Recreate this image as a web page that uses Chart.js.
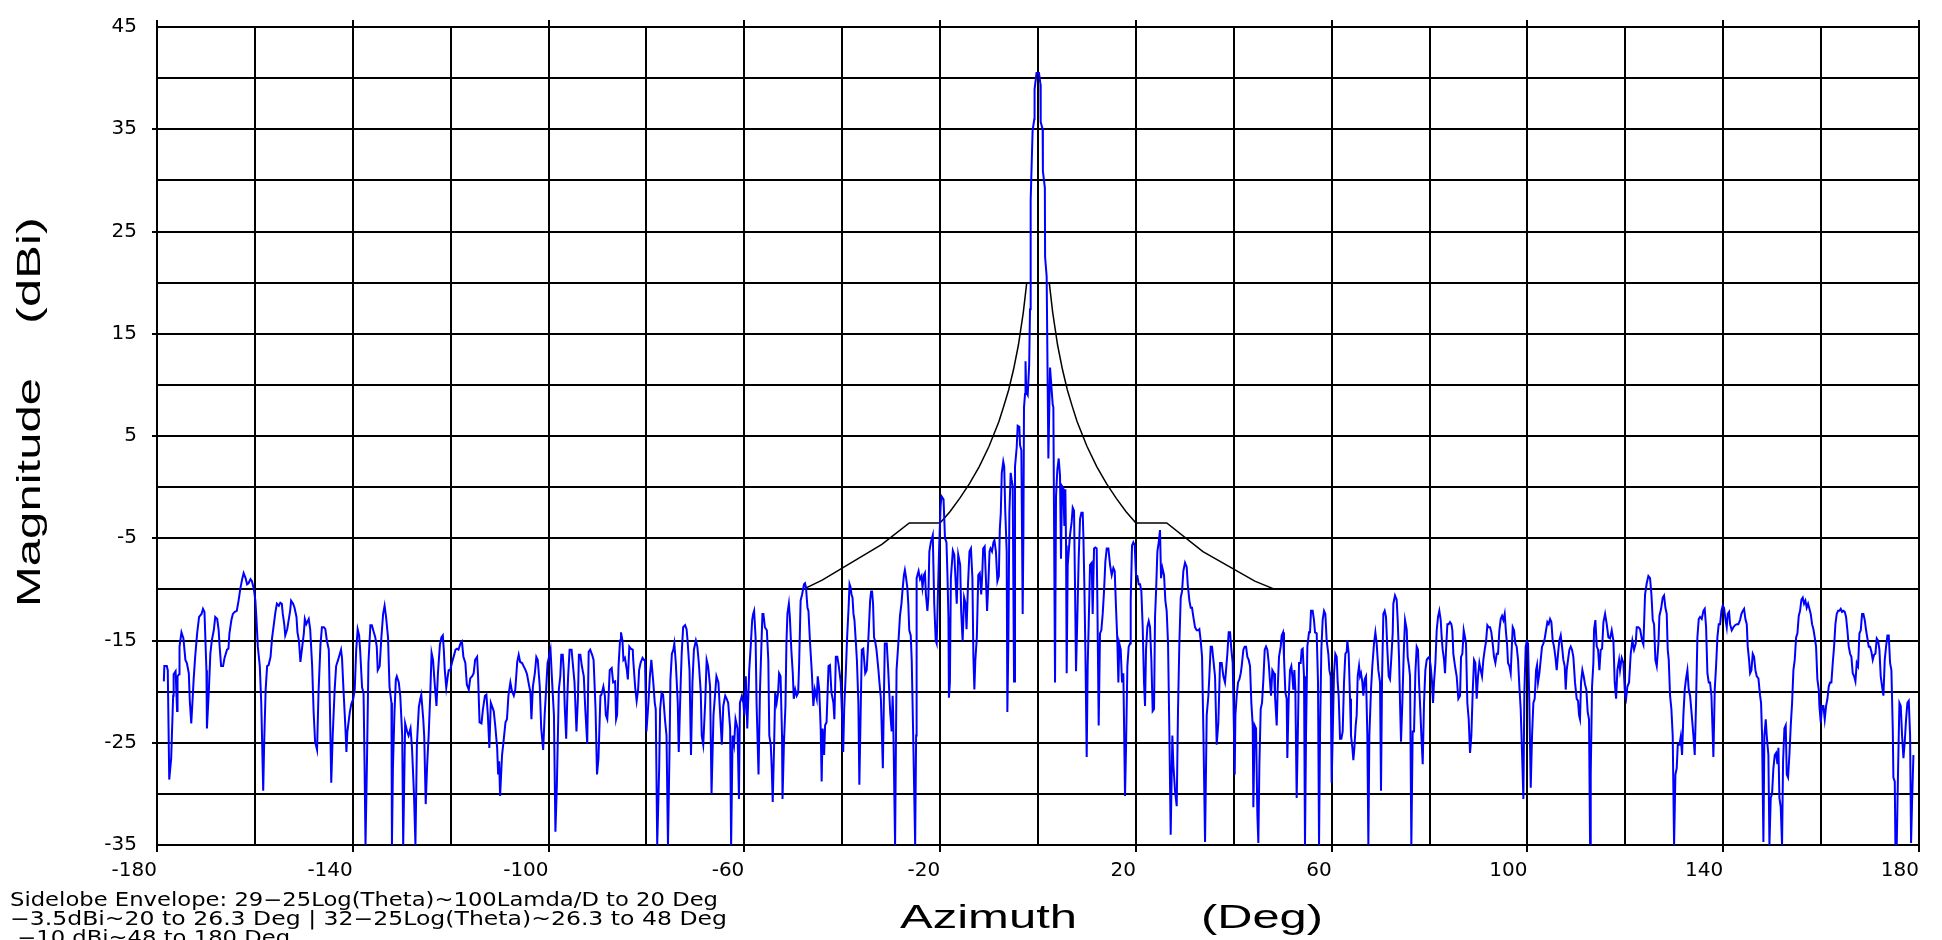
<!DOCTYPE html>
<html>
<head>
<meta charset="utf-8">
<title>Azimuth pattern</title>
<script src="https://cdn.jsdelivr.net/npm/chart.js@4.4.1/dist/chart.umd.min.js"></script>
<style>
  html, body { margin: 0; padding: 0; background: #fff; }
  #wrap { width: 1942px; height: 940px; }
</style>
</head>
<body>
<div id="wrap"><canvas id="myChart"></canvas></div>
<script>
// measured pattern in five sweeps (deg / dBi)
const azWest = [
  -178.6,-178.5,-178.0,-177.8,-177.5,-177.1,-176.7,-176.6,-176.2,-175.9,
  -175.8,-175.5,-175.4,-175.0,-174.6,-174.2,-173.9,-173.5,-173.3,-173.0,
  -172.8,-172.5,-172.2,-171.8,-171.4,-170.9,-170.6,-170.3,-169.9,-169.8,
  -169.4,-169.1,-168.8,-168.4,-168.1,-167.7,-167.4,-167.2,-166.9,-166.5,
  -166.2,-165.7,-165.4,-165.2,-164.8,-164.5,-164.1,-163.7,-163.3,-163.0,
  -162.6,-162.3,-161.9,-161.6,-161.3,-160.9,-160.6,-160.2,-159.9,-159.7,
  -159.4,-159.0,-158.7,-158.3,-158.1,-157.8,-157.5,-157.2,-156.8,-156.5,
  -156.2,-155.8,-155.5,-155.1,-154.8,-154.5,-154.3,-154.0,-153.8,-153.4,
  -153.1,-152.8,-152.6,-152.2,-151.9,-151.5,-151.3,-151.0,-150.7,-150.4,
  -150.0,-149.8,-149.5,-149.0,-148.7,-148.3,-148.0,-147.7,-147.3,-147.0,
  -146.6,-146.3,-145.9,-145.6,-145.3,-144.9,-144.7,-144.4,-144.1,-143.7,
  -143.4,-143.0,-142.7,-142.4,-142.2,-141.9,-141.5,-141.3,-141.1,-140.6,
  -140.3,-139.9,-139.6,-139.3,-139.0,-138.7,-138.5,-138.1,-137.8,-137.6,
  -137.4,-137.1,-136.8,-136.4,-136.1,-135.7,-135.4,-135.1,-134.9,-134.5,
  -134.2,-133.8,-133.5,-133.2,-132.8,-132.5,-132.1,-132.0,-131.8,-131.5,
  -131.2,-131.0,-130.6,-130.3,-129.9,-129.7,-129.5,-129.3,-128.9,-128.6,
  -128.2,-127.9,-127.5,-127.2,-126.9,-126.5,-126.2,-126.0,-125.6,-125.4,
  -125.1,-124.8,-124.5,-124.2,-123.9,-123.6,-123.3,-122.9,-122.6,-122.2,
  -121.9,-121.6,-121.4,-121.2,-120.9,-120.6,-120.4,-120.1,-119.7,-119.4,
  -119.0,-118.7,-118.4,-118.0,-117.7,-117.4,-117.0,-116.7,-116.3,-116.0,
  -115.6,-115.3,-115.0,-114.6,-114.4,-114.1,-113.7,-113.4,-113.0,-112.7,
  -112.4,-112.1,-111.8,-111.5,-111.2,-110.9,-110.5,-110.3,-110.1,-109.9,
  -109.5,-109.2,-108.8,-108.5,-108.2,-107.8,-107.5,-107.1,-106.8,-106.4,
  -106.1,-105.8,-105.4,-105.1,-104.7,-104.4,-104.1,-103.7,-103.5,-103.2,
  -102.8,-102.5,-102.2,-101.8,-101.5,-101.1,-100.8,-100.5,-100.2,-99.9,
  -99.6,-99.3,-98.9,-98.6,-98.3,-97.9,-97.6,-97.4,-97.1,-96.9,
  -96.7,-96.4,-96.2,-96.0,-95.7,-95.3,-95.0,-94.7,-94.3,-94.0,
  -93.8,-93.5,-93.2,-92.8,-92.5,-92.1,-91.8,-91.5,-91.1,-90.8,
  -90.4,-90.1,-89.8,-89.4
];
const dbWest = [
  -19.0,-17.5,-17.5,-17.9,-28.6,-26.5,-20.4,-18.3,-18.0,-21.9,
  -18.5,-18.3,-15.6,-14.2,-14.8,-16.9,-17.2,-18.2,-20.9,-23.1,
  -21.4,-18.7,-16.6,-14.3,-12.7,-12.4,-11.9,-12.2,-17.9,-23.6,
  -19.8,-16.3,-15.0,-14.0,-12.7,-12.9,-14.0,-15.6,-17.5,-17.5,
  -16.7,-15.9,-15.8,-14.3,-13.0,-12.4,-12.2,-12.1,-11.0,-10.0,
  -9.0,-8.4,-8.9,-9.5,-9.4,-9.0,-9.2,-10.0,-11.1,-12.7,
  -15.6,-17.5,-21.1,-29.7,-24.9,-19.8,-17.5,-17.4,-16.6,-14.8,
  -13.7,-12.2,-11.4,-11.6,-11.3,-11.4,-12.4,-13.4,-14.5,-13.9,
  -13.0,-12.1,-11.1,-11.4,-11.8,-12.7,-14.2,-15.0,-17.1,-15.9,
  -14.3,-12.9,-13.4,-12.9,-13.9,-17.5,-22.0,-24.9,-25.7,-20.1,
  -15.4,-13.7,-13.7,-13.9,-15.0,-15.9,-20.7,-28.9,-24.3,-19.8,
  -17.5,-16.9,-16.4,-15.9,-16.7,-19.8,-23.6,-25.9,-23.9,-22.0,
  -21.2,-20.7,-19.8,-15.9,-13.9,-14.5,-15.9,-19.6,-20.1,-26.8,
  -35,-26.8,-17.2,-13.5,-13.5,-14.2,-14.7,-15.6,-17.9,-17.5,
  -15.0,-12.4,-11.6,-12.7,-14.7,-19.5,-21.1,-35,-27.5,-22.3,
  -18.8,-18.5,-19.1,-20.4,-24.3,-35,-29.1,-23.1,-23.9,-24.3,
  -23.6,-25.5,-30.0,-35,-25.2,-21.5,-20.7,-20.3,-22.7,-24.4,
  -31.0,-27.1,-24.3,-20.7,-16.2,-16.9,-19.0,-21.4,-18.2,-15.4,
  -14.7,-14.5,-15.9,-17.9,-19.6,-18.5,-17.9,-17.9,-17.1,-16.6,
  -15.9,-15.8,-15.9,-15.3,-15.1,-16.6,-17.2,-19.3,-19.8,-18.7,
  -18.5,-18.2,-16.9,-16.6,-18.5,-23.0,-23.1,-21.7,-20.4,-20.3,
  -22.3,-25.5,-21.1,-21.5,-21.9,-23.3,-25.5,-28.1,-26.8,-30.2,
  -26.2,-24.9,-23.0,-22.7,-20.4,-19.1,-19.9,-20.4,-19.8,-17.1,
  -16.4,-17.1,-17.2,-17.5,-17.9,-18.3,-19.1,-20.1,-22.7,-19.5,
  -18.2,-16.6,-16.9,-19.5,-23.6,-25.7,-22.3,-19.8,-17.2,-16.6,
  -15.9,-18.8,-22.3,-33.7,-29.1,-19.8,-18.5,-16.4,-16.4,-17.9,
  -21.4,-24.6,-21.1,-18.5,-15.9,-15.9,-17.5,-19.1,-23.9,-20.7,
  -16.4,-16.4,-17.5,-18.5,-21.7,-25.1,-16.1,-15.9,-16.4,-16.9,
  -21.7,-28.1,-26.5,-20.4
];

const azMidWest = [
  -89.2,-88.8,-88.5,-88.3,-88.0,-87.8,-87.5,-87.1,-86.8,-86.4,
  -86.2,-86.0,-85.7,-85.4,-85.2,-84.9,-84.7,-84.4,-84.0,-83.8,
  -83.5,-83.2,-82.8,-82.7,-82.3,-82.0,-81.7,-81.5,-81.2,-80.8,
  -80.5,-80.3,-80.0,-79.6,-79.3,-79.0,-78.6,-78.3,-78.1,-77.8,
  -77.4,-77.2,-76.9,-76.6,-76.2,-75.9,-75.6,-75.3,-75.1,-74.8,
  -74.5,-74.3,-74.0,-73.6,-73.4,-73.0,-72.8,-72.5,-72.1,-71.8,
  -71.6,-71.2,-70.9,-70.6,-70.3,-69.9,-69.6,-69.3,-68.9,-68.7,
  -68.4,-68.0,-67.7,-67.4,-67.0,-66.7,-66.3,-66.0,-65.7,-65.3,
  -65.0,-64.6,-64.3,-63.9,-63.6,-63.3,-62.9,-62.7,-62.4,-62.1,
  -61.8,-61.4,-61.1,-60.9,-60.5,-60.2,-60.0,-59.7,-59.4,-59.0,
  -58.7,-58.4,-58.2,-58.0,-57.7,-57.5,-57.1,-56.8,-56.5,-56.3,
  -56.1,-55.8,-55.4,-55.1,-54.9,-54.6,-54.4,-54.2,-53.9,-53.7,
  -53.4,-53.1,-52.9,-52.6,-52.3,-52.2,-51.9,-51.6,-51.4,-51.2,
  -50.9,-50.7,-50.4,-50.1,-49.9,-49.6,-49.3,-49.0,-48.8,-48.5,
  -48.2,-47.8,-47.6,-47.4,-47.1,-46.9,-46.6,-46.2,-45.9,-45.6,
  -45.2,-45.0,-44.7,-44.4,-44.2,-44.0,-43.7,-43.5,-43.2,-42.8,
  -42.5,-42.2,-41.8,-41.6,-41.3,-41.0,-40.7,-40.3,-40.0,-39.8,
  -39.6,-39.3,-39.0,-38.7,-38.5,-38.3,-38.1,-37.9,-37.7,-37.5,
  -37.2,-37.0,-36.7,-36.5,-36.2,-36.0,-35.7,-35.3,-35.0,-34.7,
  -34.3,-34.1,-33.9,-33.7,-33.5,-33.3,-33.0,-32.6,-32.4,-32.1,
  -31.7,-31.5,-31.3,-30.9,-30.6,-30.2,-29.9,-29.7,-29.6,-29.2,
  -28.9,-28.5,-28.2,-27.9,-27.7,-27.4,-27.2,-27.0,-26.7,-26.5,
  -26.3,-26.0,-25.8,-25.5,-25.1,-24.9,-24.8,-24.4,-24.1,-23.8,
  -23.6,-23.3,-23.1,-22.9,-22.6,-22.4,-22.2,-21.9,-21.5,-21.2,
  -20.9,-20.7,-20.5,-20.2,-19.9,-19.7
];
const dbMidWest = [
  -20.3,-19.5,-20.4,-22.3,-22.7,-21.1,-17.9,-17.7,-19.1,-19.0,
  -22.7,-22.3,-17.5,-15.0,-14.2,-15.0,-16.9,-16.7,-17.9,-18.8,
  -15.6,-15.8,-15.9,-16.9,-19.6,-20.9,-19.8,-17.9,-17.2,-16.7,
  -16.9,-16.9,-23.9,-21.1,-18.5,-16.9,-19.1,-21.1,-21.7,-35,
  -27.5,-21.7,-20.1,-20.3,-22.8,-24.3,-35,-26.2,-18.8,-16.3,
  -15.9,-15.3,-17.2,-21.1,-25.9,-19.1,-16.3,-13.7,-13.5,-13.9,
  -15.0,-17.9,-26.2,-19.1,-15.9,-15.0,-15.6,-17.2,-20.1,-24.3,
  -25.2,-21.1,-16.9,-17.5,-19.5,-30.0,-22.3,-20.4,-18.5,-19.1,
  -21.7,-25.2,-21.4,-20.4,-20.7,-21.1,-23.6,-35,-24.3,-25.2,
  -22.7,-23.6,-30.5,-21.1,-20.4,-21.1,-22.3,-18.5,-23.6,-17.9,
  -15.6,-13.0,-12.4,-12.1,-14.7,-21.1,-28.1,-19.8,-15.3,-12.4,
  -12.4,-13.7,-14.0,-16.9,-24.3,-25.2,-27.5,-30.8,-24.9,-20.1,
  -21.1,-20.1,-18.2,-18.5,-24.3,-30.5,-24.9,-21.4,-15.3,-12.4,
  -11.4,-12.7,-15.9,-18.2,-20.7,-19.8,-20.4,-20.1,-17.2,-11.1,
  -10.5,-9.5,-9.4,-9.8,-11.8,-12.1,-15.0,-18.2,-21.4,-19.8,
  -20.7,-18.5,-19.8,-23.6,-28.8,-23.6,-26.2,-23.3,-23.0,-17.5,
  -17.4,-20.1,-21.1,-22.7,-16.6,-16.6,-17.5,-19.1,-22.7,-25.9,
  -21.7,-18.5,-14.7,-11.8,-9.5,-9.8,-10.5,-10.8,-12.4,-13.0,
  -15.3,-16.9,-21.1,-29.1,-21.1,-15.9,-15.8,-18.2,-17.9,-15.3,
  -11.1,-10.2,-10.2,-11.4,-14.7,-15.0,-15.9,-17.9,-19.1,-20.7,
  -27.5,-21.1,-15.3,-15.3,-17.9,-22.0,-23.9,-20.4,-22.0,-35,
  -17.9,-15.0,-12.6,-11.4,-10.2,-8.6,-8.1,-8.7,-9.8,-11.4,
  -14.0,-14.5,-16.9,-24.3,-35,-24.3,-8.9,-8.2,-9.0,-8.7,
  -9.8,-8.6,-8.4,-10.5,-12.1,-10.8,-6.3,-5.4,-4.7,-11.4,
  -15.0,-15.3,-11.4,-6.0,-1.8,-0.9
];

const azCenter = [
  -19.3,-19.0,-18.7,-18.5,-18.3,-18.2,-18.0,-17.8,-17.4,-17.1,
  -16.8,-16.6,-16.3,-15.9,-15.7,-15.4,-15.1,-14.8,-14.6,-14.3,
  -14.0,-13.7,-13.4,-13.2,-13.0,-12.8,-12.5,-12.2,-11.9,-11.6,
  -11.4,-11.2,-10.9,-10.6,-10.4,-10.1,-9.9,-9.7,-9.4,-9.1,
  -8.9,-8.6,-8.3,-8.0,-7.8,-7.6,-7.4,-7.1,-6.9,-6.7,
  -6.4,-6.26,-6.06,-5.85,-5.58,-5.38,-5.17,-4.9,-4.7,-4.35,
  -4.15,-3.81,-3.67,-3.4,-3.13,-2.99,-2.86,-2.65,-2.55,-2.4,
  -2.1,-1.8,-1.63,-1.5,-1.1,-0.75,-0.7,-0.3,0.2,0.5,
  0.55,0.95,1.0,1.4,1.45,1.77,2.12,2.46,3.0,3.14,
  3.48,3.68,3.95,4.23,4.5,4.7,4.91,5.18,5.39,5.59,
  5.73,5.86,6.07,6.54,6.88,7.09,7.36,7.56,7.77,8.04,
  8.31,8.59,8.86,9.13,9.27,9.47,9.68,9.95,10.15,10.36,
  10.63,10.97,11.17,11.45,11.72,11.99,12.13,12.4,12.67,12.94,
  13.22,13.49,13.76,14.04,14.38,14.72,15.06,15.4,15.67,15.94,
  16.21,16.42,16.62,16.9,17.17,17.44,17.78,17.98,18.26,18.53,
  18.8,18.94,19.21,19.48,19.76,20.03,20.3,20.57,20.85,21.12,
  21.39,21.66,21.87,22.07,22.34,22.62,22.89,23.16,23.43,23.71,
  23.91,24.12,24.39,24.66,24.93,25.14,25.41,25.75,26.02,26.29,
  26.57,26.84,27.11,27.45,27.66,28.0,28.34,28.61,28.88,29.16,
  29.43,29.7,30.04,30.38,30.59,30.93,31.2,31.47,31.74,32.08,
  32.42,32.77,32.97,33.24,33.52,33.79,34.13,34.47,34.81,35.01,
  35.28,35.56,35.83,36.17,36.51,36.85,37.19,37.53,37.87,38.21,
  38.42,38.69,38.96,39.24,39.51,39.78,39.92,40.19,40.33,40.6,
  40.87,41.14,41.42,41.62,41.96,42.23,42.51,42.78,43.05,43.32,
  43.59,43.87,44.0,44.27,44.55,44.82,45.02,45.23,45.5,45.77,
  46.05,46.32,46.59,46.86,47.14,47.41
];
const dbCenter = [
  -1.2,-5.0,-5.4,-8.6,-12.7,-20.6,-19.1,-8.9,-6.2,-6.6,
  -9.5,-11.4,-6.6,-7.6,-12.1,-15.1,-10.8,-11.4,-13.9,-9.5,
  -6.3,-6.0,-8.9,-16.6,-19.8,-16.9,-14.7,-8.6,-8.4,-10.5,
  -8.6,-6.0,-5.8,-9.5,-12.1,-8.9,-6.3,-6.0,-6.3,-5.4,
  -5.2,-6.3,-9.2,-8.7,-4.1,-2.5,1.4,2.5,2.0,-2.2,
  -6.3,-22.0,-15.3,-2.5,1.4,0.7,0.1,-19.0,2.0,3.9,
  6.0,5.9,4.1,3.6,-12.4,-5.0,7.8,9.1,12.3,9.3,
  9.0,12.0,17.4,28.0,34.9,36.0,38.9,40.5,40.5,39.4,
  35.7,35.0,30.9,29.3,22.5,20.6,2.8,11.7,8.1,7.8,
  -19.1,-0.9,1.7,2.8,1.1,-7.0,0.1,-0.1,-3.8,-0.2,
  -5.7,-18.2,-7.6,-4.7,-3.4,-2.0,-2.3,-9.5,-18.0,-12.7,
  -7.0,-3.1,-2.5,-2.5,-4.7,-9.5,-15.9,-26.4,-17.5,-13.4,
  -7.6,-7.4,-12.4,-6.0,-5.9,-6.0,-11.1,-23.3,-14.3,-14.0,
  -12.4,-10.2,-7.3,-6.0,-6.0,-7.6,-8.6,-7.9,-8.2,-11.8,
  -15.0,-19.1,-15.3,-15.9,-19.1,-18.2,-30.2,-25.6,-17.5,-15.6,
  -15.3,-11.1,-5.7,-5.4,-5.7,-8.6,-8.7,-9.5,-9.5,-10.2,
  -13.7,-19.1,-21.4,-15.9,-13.7,-13.1,-13.7,-16.9,-21.9,-21.7,
  -12.7,-10.2,-6.3,-5.4,-4.2,-8.9,-7.9,-8.6,-11.1,-12.1,
  -15.3,-23.9,-34.0,-24.3,-27.2,-29.7,-31.2,-21.7,-15.3,-10.8,
  -10.2,-8.2,-7.4,-7.8,-9.5,-11.1,-11.8,-11.8,-12.7,-13.7,
  -14.0,-14.0,-13.9,-15.0,-16.6,-23.9,-34.7,-22.3,-20.4,-18.5,
  -15.6,-15.6,-16.9,-18.5,-25.2,-23.0,-17.2,-17.2,-18.5,-19.1,
  -17.9,-16.3,-14.2,-14.2,-15.9,-17.2,-20.7,-28.1,-22.3,-20.4,
  -19.1,-18.8,-18.2,-17.5,-15.9,-15.6,-15.6,-16.6,-16.9,-17.5,
  -21.1,-23.3,-31.3,-23.3,-23.6,-32.0,-34.8,-27.2,-21.7,-21.1,
  -18.8,-15.9,-15.6,-15.9,-17.2,-19.1
];

const azMidEast = [
  47.61,47.88,48.22,48.42,48.77,48.97,49.24,49.58,49.79,50.06,
  50.26,50.54,50.81,50.94,51.22,51.49,51.76,51.97,52.17,52.38,
  52.58,52.85,53.06,53.33,53.67,53.87,54.08,54.35,54.55,54.76,
  55.03,55.37,55.58,55.78,56.12,56.39,56.6,56.94,57.21,57.42,
  57.62,57.89,58.16,58.44,58.71,58.98,59.32,59.53,59.8,60.0,
  60.21,60.48,60.75,61.03,61.23,61.43,61.71,61.98,62.25,62.52,
  62.8,63.07,63.2,63.48,63.75,63.95,64.23,64.43,64.64,64.91,
  65.11,65.32,65.59,65.79,66.0,66.27,66.47,66.75,67.02,67.29,
  67.5,67.7,68.04,68.31,68.65,68.93,69.2,69.54,69.88,70.08,
  70.29,70.56,70.83,71.1,71.38,71.65,71.92,72.2,72.47,72.6,
  72.94,73.28,73.49,73.76,73.97,74.17,74.44,74.72,74.99,75.33,
  75.53,75.8,76.01,76.28,76.55,76.83,77.1,77.37,77.64,77.85,
  78.05,78.33,78.6,78.87,79.14,79.42,79.69,79.96,80.23,80.51,
  80.71,80.91,81.19,81.46,81.73,82.0,82.28,82.48,82.68,82.96,
  83.16,83.37,83.64,83.91,84.18,84.46,84.66,84.86,85.2,85.54,
  85.88,86.23,86.43,86.7,86.98,87.25,87.45,87.72,88.0,88.27,
  88.54,88.81,89.09,89.36,89.63,89.9,90.18,90.45,90.72,90.99,
  91.27,91.54,91.81,92.08,92.36,92.63,92.9,93.17,93.45,93.72,
  93.99,94.26,94.54,94.81,95.08,95.35,95.63,95.83,96.03,96.31,
  96.58,96.78,96.99,97.26,97.53,97.8,98.08,98.35,98.62,98.89,
  99.17,99.37,99.64,99.85,100.12,100.39,100.67,100.94,101.21,101.48,
  101.76,101.96,102.16,102.44,102.71,102.98,103.25,103.53,103.8,104.07,
  104.34,104.62,104.89,105.16,105.43,105.71,105.98,106.25,106.52,106.8,
  107.07,107.34,107.61,107.82,108.02,108.29,108.57,108.84,109.11,109.38,
  109.72,110.06,110.34,110.54,110.74,110.95,111.22,111.49,111.77,112.04,
  112.31,112.58
];
const dbMidEast = [
  -20.4,-17.9,-18.2,-20.4,-23.3,-19.8,-16.6,-15.6,-14.5,-14.2,
  -16.6,-20.1,-20.7,-26.5,-20.7,-17.9,-17.5,-18.5,-19.8,-17.9,
  -19.8,-30.4,-24.9,-17.2,-17.2,-15.9,-15.8,-18.5,-35,-24.3,
  -15.6,-14.2,-14.2,-12.1,-12.1,-13.0,-14.2,-14.3,-19.1,-35,
  -24.3,-15.9,-13.0,-12.1,-12.4,-15.0,-16.3,-17.9,-18.5,-28.9,
  -24.3,-18.2,-16.3,-16.6,-19.1,-20.4,-24.6,-24.6,-23.9,-19.1,
  -16.3,-16.1,-15.0,-16.3,-20.7,-24.3,-25.5,-26.7,-25.5,-23.3,
  -22.3,-18.5,-17.5,-18.5,-18.2,-19.1,-20.4,-18.8,-18.5,-24.3,
  -35,-24.3,-19.8,-17.5,-15.3,-14.2,-15.3,-17.9,-19.1,-29.7,
  -18.8,-12.4,-12.1,-12.7,-15.9,-18.5,-18.8,-16.6,-14.3,-11.4,
  -10.6,-11.0,-13.0,-16.6,-21.1,-24.9,-21.1,-16.3,-13.0,-13.9,
  -16.6,-17.5,-18.5,-35,-23.9,-23.9,-18.2,-15.6,-15.9,-19.1,
  -21.1,-24.3,-27.1,-21.1,-17.9,-16.9,-16.7,-16.6,-17.5,-19.1,
  -21.1,-19.1,-17.2,-14.0,-12.7,-12.1,-13.0,-14.7,-15.9,-16.9,
  -18.2,-15.9,-13.4,-13.4,-13.2,-13.4,-14.0,-16.3,-17.5,-18.5,
  -20.7,-20.4,-16.6,-16.3,-14.0,-14.7,-15.3,-21.1,-22.7,-26.0,
  -24.3,-20.1,-16.9,-17.2,-20.7,-18.5,-17.2,-17.9,-18.5,-16.9,
  -15.9,-15.1,-13.5,-13.7,-13.7,-14.2,-15.3,-16.6,-17.2,-16.3,
  -16.3,-14.0,-12.9,-12.6,-13.0,-12.4,-14.3,-15.3,-17.2,-17.5,
  -18.2,-15.9,-13.7,-14.0,-15.3,-15.6,-16.9,-19.5,-21.7,-25.9,
  -30.5,-20.1,-15.6,-15.1,-15.3,-21.1,-29.4,-24.3,-21.1,-20.7,
  -17.9,-17.4,-19.1,-18.2,-16.9,-15.6,-15.3,-14.8,-14.0,-13.2,
  -13.4,-12.9,-13.2,-15.0,-15.6,-16.6,-17.9,-16.3,-15.0,-14.5,
  -15.6,-16.9,-17.5,-19.8,-17.9,-16.9,-15.9,-15.6,-15.9,-16.6,
  -19.1,-20.7,-20.9,-22.3,-22.7,-19.1,-17.9,-18.5,-19.3,-19.8,
  -22.0,-22.7
];

const azEast = [
  112.8,112.93,113.2,113.47,113.61,113.88,114.16,114.43,114.7,114.97,
  115.25,115.52,115.86,116.2,116.54,116.88,117.22,117.56,117.83,118.11,
  118.38,118.72,118.92,119.26,119.6,119.94,120.15,120.42,120.76,121.1,
  121.44,121.78,122.12,122.33,122.67,123.01,123.42,123.69,124.03,124.37,
  124.71,125.05,125.33,125.6,125.87,126.14,126.42,126.76,126.96,127.3,
  127.64,127.91,128.19,128.46,128.66,128.87,129.14,129.41,129.68,129.96,
  130.23,130.5,130.71,131.05,131.32,131.59,131.86,132.14,132.41,132.68,
  132.95,133.23,133.57,133.91,134.18,134.45,134.72,135.0,135.27,135.61,
  135.95,136.22,136.5,136.77,137.04,137.31,137.59,137.86,137.99,138.27,
  138.54,138.81,139.08,139.36,139.63,139.9,140.17,140.45,140.72,140.92,
  141.2,141.4,141.74,142.08,142.42,142.76,143.1,143.44,143.72,143.99,
  144.26,144.53,144.81,145.01,145.28,145.49,145.76,146.03,146.3,146.58,
  146.85,147.19,147.53,147.73,147.94,148.21,148.41,148.69,148.89,149.23,
  149.44,149.71,149.98,150.25,150.53,150.8,151.07,151.28,151.48,151.75,
  152.02,152.23,152.5,152.77,152.98,153.25,153.52,153.8,154.07,154.34,
  154.61,154.89,155.16,155.43,155.7,155.98,156.25,156.52,156.79,157.06,
  157.34,157.61,157.88,158.15,158.43,158.7,158.97,159.24,159.52,159.65,
  159.93,160.2,160.47,160.74,161.02,161.29,161.56,161.83,162.1,162.38,
  162.65,162.92,163.19,163.47,163.74,164.01,164.28,164.56,164.83,165.1,
  165.37,165.65,165.92,166.19,166.46,166.74,167.01,167.28,167.55,167.83,
  168.1,168.37,168.64,168.92,169.19,169.46,169.73,170.0,170.28,170.55,
  170.82,171.09,171.37,171.64,171.91,172.18,172.46,172.73,173.0,173.27,
  173.55,173.82,174.09,174.36,174.64,174.77,175.05,175.18,175.45,175.73,
  176.0,176.27,176.54,176.82,177.09,177.36,177.63,177.91,178.18,178.38,
  178.59,178.86
];
const dbEast = [
  -35,-28.1,-19.5,-17.2,-13.9,-13.0,-15.6,-15.9,-17.9,-15.9,
  -15.8,-13.2,-12.4,-13.4,-14.7,-14.8,-14.0,-15.0,-19.1,-20.7,
  -17.9,-16.9,-17.9,-16.7,-17.2,-20.3,-20.7,-19.5,-19.1,-16.3,
  -15.0,-15.9,-15.3,-13.7,-13.7,-13.9,-15.0,-15.4,-10.5,-9.4,
  -8.7,-8.9,-10.5,-13.0,-13.4,-16.9,-17.5,-15.3,-12.6,-11.9,
  -10.8,-10.6,-11.8,-12.4,-15.9,-16.9,-20.4,-21.7,-24.3,-35,
  -28.1,-27.5,-25.2,-25.2,-24.4,-26.2,-22.3,-19.8,-18.7,-17.9,
  -19.8,-20.4,-22.3,-24.3,-26.2,-21.1,-14.7,-12.9,-12.7,-12.9,
  -12.1,-11.9,-13.7,-18.2,-19.1,-19.1,-20.4,-24.3,-26.4,-19.8,
  -17.5,-14.7,-13.4,-13.4,-12.1,-11.6,-11.8,-12.9,-13.7,-12.4,
  -12.2,-13.4,-14.0,-13.7,-13.5,-13.4,-13.4,-13.0,-12.4,-12.1,
  -11.9,-12.9,-13.4,-15.6,-16.9,-18.2,-17.9,-16.3,-16.6,-17.9,
  -18.5,-18.7,-20.4,-21.1,-24.3,-34.7,-24.3,-22.7,-24.3,-26.2,
  -35,-30.4,-30.0,-27.5,-26.2,-26.0,-27.1,-25.5,-30.4,-31.3,
  -35,-26.8,-23.6,-23.3,-28.1,-28.4,-26.2,-23.3,-21.1,-17.9,
  -16.9,-14.7,-14.3,-12.6,-12.1,-11.0,-10.8,-11.4,-11.1,-11.8,
  -11.4,-11.9,-12.4,-13.4,-13.9,-14.7,-15.6,-18.8,-19.8,-21.4,
  -23.0,-21.4,-21.4,-22.7,-21.4,-20.7,-19.5,-19.1,-19.1,-17.2,
  -15.6,-13.4,-12.4,-12.1,-12.1,-11.9,-12.2,-12.1,-12.2,-12.7,
  -14.0,-15.6,-16.3,-16.6,-18.2,-18.5,-19.0,-17.2,-17.5,-14.3,
  -14.0,-12.4,-12.4,-13.0,-14.0,-14.8,-15.6,-15.6,-16.1,-16.9,
  -16.4,-16.3,-14.8,-15.0,-15.9,-18.5,-19.5,-20.4,-16.9,-15.6,
  -14.5,-14.5,-17.2,-17.9,-23.6,-28.4,-28.8,-35,-35,-27.5,
  -21.1,-21.4,-24.3,-26.5,-24.9,-22.7,-21.1,-20.9,-24.3,-34.8,
  -30.7,-26.2
];

// sidelobe envelope (null splits the two halves at boresight)
const envAz = [-48, -44.1, -31.9, -26.3, -20, -18, -16, -14, -12, -10, -8, -7, -6, -5, -4, -3, -2.3,
  0, 2.3, 3, 4, 5, 6, 7, 8, 10, 12, 14, 16, 18, 20, 26.3, 33.7, 44.3, 48.4];
const envDb = [-10, -9.1, -5.6, -3.5, -3.5, -2.4, -1.1, 0.35, 2.0, 4.0, 6.4, 7.9, 9.5, 11.5, 13.9, 17.1, 20.0,
  null, 20.0, 17.1, 13.9, 11.5, 9.5, 7.9, 6.4, 4.0, 2.0, 0.35, -1.1, -2.4, -3.5, -3.5, -6.3, -9.2, -10];

const xTickLabels = [-180, -140, -100, -60, -20, 20, 60, 100, 140, 180];
const yTickLabels = [45, 35, 25, 15, 5, -5, -15, -25, -35];
const yTitle = ['Magnitude', '(dBi)'];
const xTitle = ['Azimuth', '(Deg)'];
const notes = [
  'Sidelobe Envelope: 29\u221225Log(Theta)~100Lamda/D to 20 Deg',
  '\u22123.5dBi~20 to 26.3 Deg | 32\u221225Log(Theta)~26.3 to 48 Deg',
  ' \u221210 dBi~48 to 180 Deg'
];

const azimuth = [...azWest, ...azMidWest, ...azCenter, ...azMidEast, ...azEast];
const magnitude = [...dbWest, ...dbMidWest, ...dbCenter, ...dbMidEast, ...dbEast];
if (azimuth.length !== magnitude.length) {
  throw new Error('azimuth/magnitude length mismatch ' + azimuth.length + ' ' + magnitude.length);
}

const patternPoints = azimuth.map((a, i) => ({ x: a, y: magnitude[i] }));
const envelopePoints = envAz.map((a, i) => ({ x: a, y: envDb[i] }));

const onLabel = (list) => (c) => list.includes(c.tick.value) ? '#000' : 'rgba(0,0,0,0)';

// titles and the envelope note are drawn in a wide, stretched face like the original plotter output
const captions = {
  id: 'captions',
  afterDraw(chart) {
    const ctx = chart.ctx;
    const put = (text, x, y, width, font, rotate) => {
      ctx.save();
      ctx.font = font;
      ctx.fillStyle = '#000';
      ctx.textAlign = 'left';
      ctx.textBaseline = 'alphabetic';
      const w = ctx.measureText(text).width;
      ctx.translate(x, y);
      if (rotate) ctx.rotate(-Math.PI / 2);
      ctx.scale(width / w, 1);
      ctx.fillText(text, 0, 0);
      ctx.restore();
      return width / w;
    };
    const titleFont = '34px "Liberation Sans"';
    put(yTitle[0], 40, 607, 229, titleFont, true);
    put(yTitle[1], 40, 324, 107, titleFont, true);
    put(xTitle[0], 900, 928, 177, titleFont, false);
    put(xTitle[1], 1201, 928, 122, titleFont, false);

    const noteFont = '19px "DejaVu Sans"';
    const k = put(notes[0], 10, 906, 708, noteFont, false);
    put(notes[1], 10, 925, 717, noteFont, false);
    ctx.save();
    ctx.font = noteFont;
    const w3 = ctx.measureText(notes[2]).width;
    ctx.restore();
    put(notes[2], 10, 944, w3 * k, noteFont, false);
  }
};

const tickFont = { family: 'DejaVu Sans', size: 20 };

new Chart(document.getElementById('myChart'), {
  type: 'line',
  data: {
    datasets: [
      {
        label: 'Measured',
        data: patternPoints,
        borderColor: '#0000ff',
        borderWidth: 2,
        pointRadius: 0,
        tension: 0,
        order: 1
      },
      {
        label: 'Envelope',
        data: envelopePoints,
        borderColor: '#000',
        borderWidth: 1.5,
        pointRadius: 0,
        tension: 0,
        spanGaps: false,
        order: 2
      }
    ]
  },
  options: {
    responsive: true,
    maintainAspectRatio: false,
    animation: false,
    devicePixelRatio: 1,
    layout: { padding: { left: 0, right: 23, top: 6, bottom: 0 } },
    plugins: { legend: { display: false }, tooltip: { enabled: false } },
    scales: {
      x: {
        type: 'linear',
        min: -180,
        max: 180,
        afterFit: (s) => { s.height = 95; },
        border: { color: '#000', width: 2 },
        grid: { color: '#000', lineWidth: 2, tickLength: 7, tickWidth: 2, tickColor: onLabel(xTickLabels) },
        ticks: {
          stepSize: 20,
          autoSkip: false,
          maxRotation: 0,
          align: 'end',
          padding: 7,
          color: '#000',
          font: tickFont,
          callback: (v) => xTickLabels.includes(v) ? String(v) : ''
        }
      },
      xTop: {
        type: 'linear',
        position: 'top',
        min: -180,
        max: 180,
        afterFit: (s) => { s.height = 7; },
        border: { display: false },
        grid: { drawOnChartArea: false, color: '#000', lineWidth: 2, tickLength: 7, tickWidth: 2, tickColor: onLabel(xTickLabels) },
        ticks: { stepSize: 20, display: false }
      },
      y: {
        type: 'linear',
        min: -35,
        max: 45,
        afterFit: (s) => { s.width = 157; },
        border: { color: '#000', width: 2 },
        grid: { color: '#000', lineWidth: 2, tickLength: 5, tickWidth: 2, tickColor: onLabel(yTickLabels.slice(1, -1)) },
        ticks: {
          stepSize: 5,
          autoSkip: false,
          padding: 15,
          color: '#000',
          font: tickFont,
          callback: (v) => yTickLabels.includes(v) ? String(v) : ''
        }
      }
    }
  },
  plugins: [captions]
});
</script>
</body>
</html>
